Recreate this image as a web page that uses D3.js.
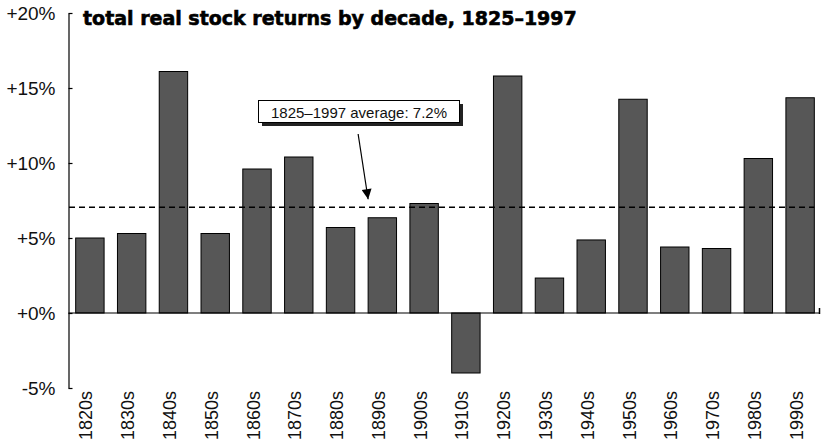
<!DOCTYPE html>
<html><head><meta charset="utf-8">
<script src="https://cdn.jsdelivr.net/npm/d3@7"></script>
<style>
body{margin:0;background:#fff;}
svg{display:block;font-family:"Liberation Sans",Arial,sans-serif;}
</style></head>
<body><svg id="c" width="822" height="446"></svg>
<script>
const decades = ["1820s","1830s","1840s","1850s","1860s","1870s","1880s","1890s","1900s","1910s","1920s","1930s","1940s","1950s","1960s","1970s","1980s","1990s"];
const returns = [5.0,5.3,16.1,5.3,9.6,10.4,5.7,6.35,7.3,-4.0,15.8,2.33,4.87,14.25,4.4,4.3,10.3,14.35];
const yTicks = [-5,0,5,10,15,20];
const averageValue = 7.05;
const titleText = "total real stock returns by decade, 1825–1997";
const noteText = "1825–1997 average: 7.2%";

const svg = d3.select("#c");
const x = d3.scaleBand().domain(decades).range([69, 821]).paddingInner(0.32).paddingOuter(0.16);
const y = d3.scaleLinear().domain([-5, 20]).range([388, 13]);

// y axis
const fmt = v => (v < 0 ? "-" : "+") + Math.abs(v) + "%";
const ya = svg.append("g").attr("transform","translate(68.5,0)")
  .call(d3.axisLeft(y).tickValues(yTicks).tickFormat(fmt).tickSizeInner(-4).tickSizeOuter(0).tickPadding(13));
ya.select(".domain").attr("stroke","#000").attr("stroke-width",1.2);
ya.selectAll(".tick line").attr("stroke","#000").attr("stroke-width",1.2);
ya.selectAll(".tick text").attr("font-size",19).attr("fill","#111").attr("font-family","\"Liberation Sans\",Arial,sans-serif");

// bars
svg.append("g").selectAll("rect").data(decades).join("rect")
  .attr("x", d => x(d))
  .attr("width", x.bandwidth())
  .attr("y", (d,i) => y(Math.max(0, returns[i])))
  .attr("height", (d,i) => Math.abs(y(returns[i]) - y(0)))
  .attr("fill","#575757").attr("stroke","#000").attr("stroke-width",1);

// zero line
svg.append("line").attr("x1",68.5).attr("x2",820).attr("y1",y(0)).attr("y2",y(0))
  .attr("stroke","#000").attr("stroke-width",1.2);
svg.append("line").attr("x1",819.5).attr("x2",819.5).attr("y1",y(0)-5).attr("y2",y(0)+1)
  .attr("stroke","#000").attr("stroke-width",1.5);

// x labels
const xa = svg.append("g").attr("transform",`translate(0,${y(-5)})`)
  .call(d3.axisBottom(x).tickSize(0).tickPadding(0));
xa.select(".domain").remove();
xa.selectAll(".tick text")
  .attr("transform","translate(2.5,3) rotate(-90)")
  .attr("text-anchor","end").attr("x",0).attr("y",0).attr("dy",0)
  .attr("font-size",18).attr("fill","#111").attr("font-family","\"Liberation Sans\",Arial,sans-serif");

// average line
svg.append("line").attr("x1",69).attr("x2",x(decades[decades.length-1]) + x.bandwidth())
  .attr("y1",y(averageValue)).attr("y2",y(averageValue))
  .attr("stroke","#000").attr("stroke-width",1.3).attr("stroke-dasharray","6,4");

// annotation box
const bx = 258.5, by = 100.5, bw = 201, bh = 22;
svg.append("rect").attr("x",bx+3.5).attr("y",by+3.5).attr("width",bw).attr("height",bh).attr("fill","#222");
svg.append("rect").attr("x",bx).attr("y",by).attr("width",bw).attr("height",bh).attr("fill","#fff").attr("stroke","#000").attr("stroke-width",1);
svg.append("text").attr("x",bx+bw/2).attr("y",by+17).attr("text-anchor","middle")
  .attr("font-size",15).attr("fill","#111").text(noteText);

// arrow
const tipX = x("1890s"), tipY = y(averageValue) - 8;
svg.append("defs").append("marker").attr("id","ah").attr("viewBox","0 0 10 10")
  .attr("refX",10).attr("refY",5).attr("markerWidth",14).attr("markerHeight",10)
  .attr("markerUnits","userSpaceOnUse").attr("orient","auto")
  .append("path").attr("d","M0,0 L10,5 L0,10 Z").attr("fill","#000");
svg.append("line").attr("x1",tipX-10).attr("y1",134).attr("x2",tipX).attr("y2",tipY)
  .attr("stroke","#000").attr("stroke-width",1.2).attr("marker-end","url(#ah)");

// title
svg.append("text").attr("x",83).attr("y",25).attr("font-family","\"DejaVu Sans\",sans-serif")
  .attr("font-weight","bold").attr("font-size",19).attr("fill","#000")
  .attr("stroke","#000").attr("stroke-width",0.6).text(titleText);
</script></body></html>
